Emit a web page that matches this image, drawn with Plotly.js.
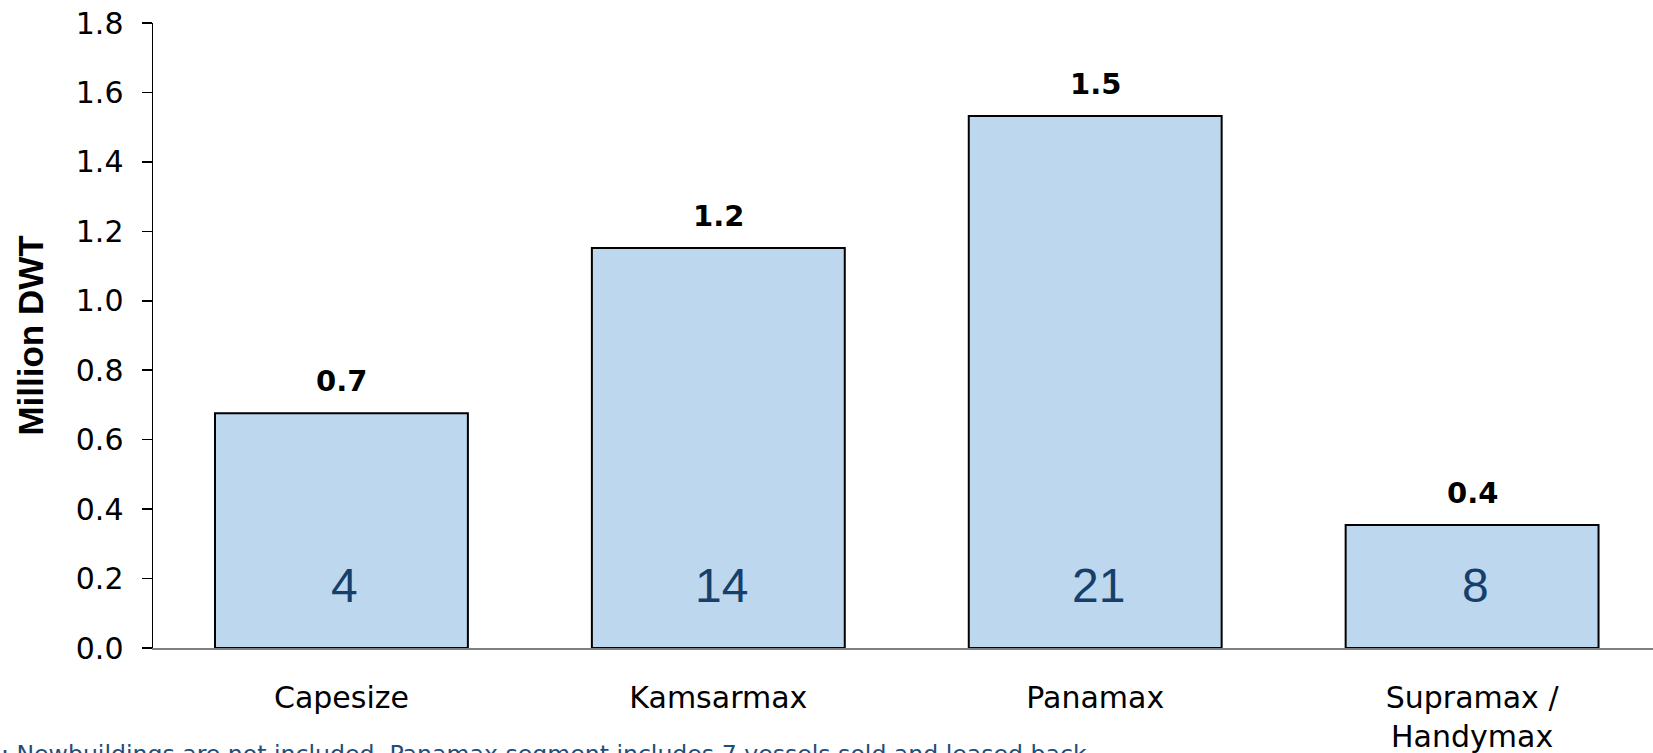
<!DOCTYPE html>
<html>
<head>
<meta charset="utf-8">
<script src="https://cdn.plot.ly/plotly-3.0.1.min.js"></script>
<style>
  html, body { margin: 0; padding: 0; background: #ffffff; overflow: hidden; }
  #chart { width: 1653px; height: 753px; }
</style>
</head>
<body>
<div id="chart"></div>
<script>
// ---- data ----
const categories = ["Capesize", "Kamsarmax", "Panamax", "Supramax /<br>Handymax"];
const dwtMillion = [0.676, 1.152, 1.532, 0.354];
const vesselCounts = [4, 14, 21, 8];
const yTickVals = [0, 0.2, 0.4, 0.6, 0.8, 1.0, 1.2, 1.4, 1.6, 1.8];
const yTickText = ["0.0", "0.2", "0.4", "0.6", "0.8", "1.0", "1.2", "1.4", "1.6", "1.8"];
const footnote = ": Newbuildings are not included. Panamax segment includes 7 vessels sold and leased back.";

const xIdx = categories.map((c, i) => i);
const wideFont = "DejaVu Sans, Verdana, sans-serif";
const arialFont = "Liberation Sans, Arial, sans-serif";

const barTrace = {
  type: "bar",
  x: xIdx,
  y: dwtMillion,
  width: 0.671,
  marker: { color: "#BDD7EE", line: { color: "#000000", width: 2 } },
  hoverinfo: "skip",
  showlegend: false
};

const annotations = [];
dwtMillion.forEach((v, i) => {
  annotations.push({
    x: i, y: v, xref: "x", yref: "y",
    text: "<b>" + v.toFixed(1) + "</b>",
    showarrow: false, yanchor: "bottom", yshift: 13,
    font: { family: wideFont, size: 29, color: "#000000" }
  });
  annotations.push({
    x: i, y: 0.18, xref: "x", yref: "y",
    text: String(vesselCounts[i]),
    showarrow: false, yanchor: "middle", xshift: 3,
    font: { family: arialFont, size: 48, color: "#173F6B" }
  });
});
annotations.push({
  x: -0.103, y: -0.1435, xref: "paper", yref: "paper",
  xanchor: "left", yanchor: "top",
  text: footnote, showarrow: false,
  font: { family: wideFont, size: 23.6, color: "#1F4E79" }
});

const layout = {
  width: 1653, height: 753,
  margin: { l: 152.5, r: 0, t: 23, b: 105.3, pad: 0 },
  paper_bgcolor: "#ffffff", plot_bgcolor: "#ffffff",
  showlegend: false,
  font: { family: arialFont, color: "#000000" },
  xaxis: {
    range: [-0.5, 3.48],
    tickmode: "array", tickvals: xIdx, ticktext: categories,
    ticks: "", showgrid: false, zeroline: false,
    showline: true, linecolor: "#808080", linewidth: 2,
    tickfont: { family: wideFont, size: 30, color: "#000000" },
    ticklabelstandoff: 22,
    fixedrange: true
  },
  yaxis: {
    range: [0, 1.8],
    tickmode: "array", tickvals: yTickVals, ticktext: yTickText,
    ticks: "outside", ticklen: 10, tickwidth: 1.5, tickcolor: "#000000",
    showgrid: false, zeroline: false,
    showline: true, linecolor: "#000000", linewidth: 1.5,
    tickfont: { family: wideFont, size: 30, color: "#000000" },
    ticklabelstandoff: 12,
    title: { text: "<b>Million DWT</b>", standoff: 21,
             font: { family: arialFont, size: 35, color: "#000000" } },
    fixedrange: true
  },
  annotations: annotations
};

Plotly.newPlot("chart", [barTrace], layout, { displayModeBar: false, staticPlot: true });
</script>
</body>
</html>
